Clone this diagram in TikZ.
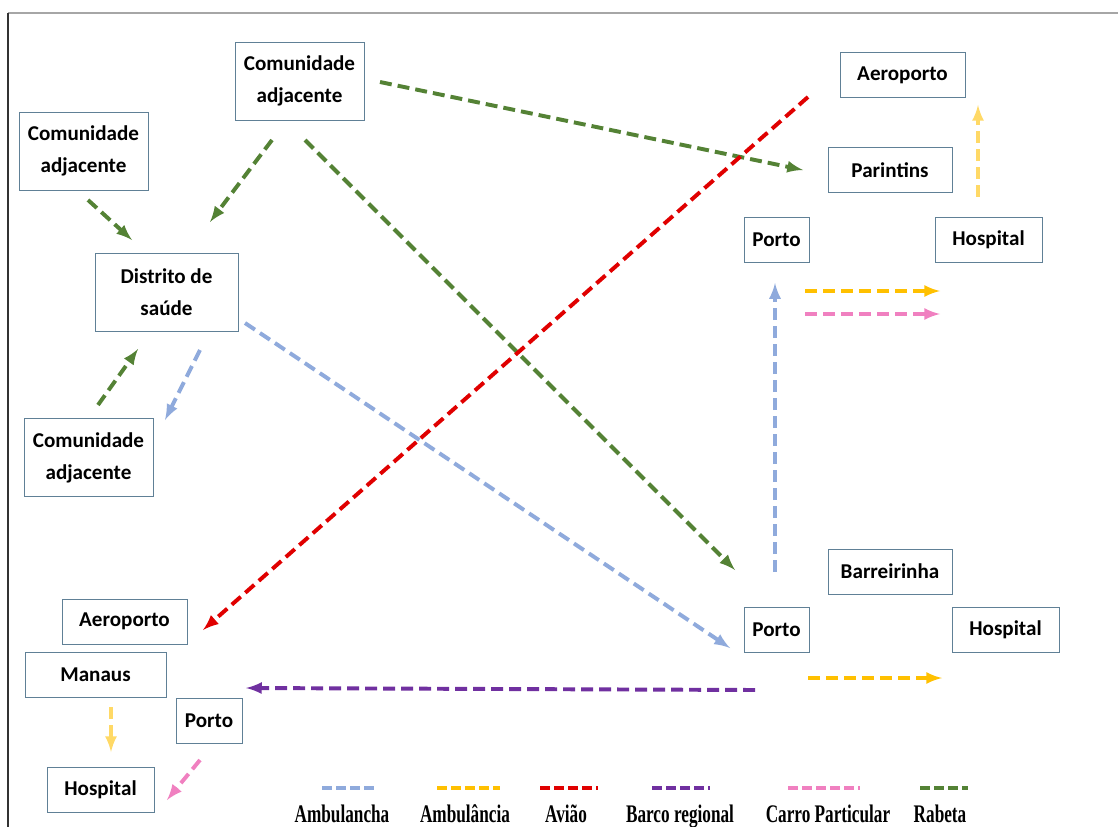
\documentclass[tikz,border=0pt]{standalone}
\usepackage{fontspec}
\setmainfont{Carlito}
\newfontfamily\legendfont[FakeStretch=0.68]{Liberation Serif}
\usepackage{tikz}
\usetikzlibrary{arrows,positioning}

\definecolor{boxline}{RGB}{96,128,150}
\definecolor{rabeta}{RGB}{84,130,53}
\definecolor{lancha}{RGB}{143,170,220}
\definecolor{ambu}{RGB}{255,192,0}
\definecolor{ambulight}{RGB}{255,217,102}
\definecolor{aviao}{RGB}{224,0,0}
\definecolor{barco}{RGB}{112,48,160}
\definecolor{carro}{RGB}{240,128,192}

\begin{document}
\begin{tikzpicture}[x=0.025cm, y=-0.025cm,
  box/.style={draw=boxline, line width=0.6pt, rectangle, minimum height=1.125cm, font=\fontsize{15}{22.7}\selectfont\bfseries, align=center, inner sep=2pt},
  tall/.style={minimum height=1.95cm},
  route/.style={line width=2.8pt, dash pattern=on 8.5pt off 4.3pt, >=latex},
  key/.style={line width=2.8pt, dash pattern=on 7pt off 3pt},
  lbl/.style={font=\fontsize{18}{20}\selectfont\legendfont\bfseries, anchor=base, inner sep=0pt}
]
\useasboundingbox (0,0) rectangle (1118,827);
% frame
\draw[gray!70, line width=1.4pt] (8,13) -- (1118,13);
\draw[black!80, line width=1.4pt] (8,13) -- (8,827);

% communities and district
\node[box, tall, minimum width=3.225cm] (comTop) at (299.5,81) {Comunidade\\adjacente};
\node[box, tall, minimum width=3.225cm] (comLeft) at (83.5,151) {Comunidade\\adjacente};
\node[box, tall, minimum width=3.575cm] (distrito) at (166.5,292.5) {Distrito de\\saúde};
\node[box, tall, minimum width=3.225cm] (comLow) at (88.5,457.5) {Comunidade\\adjacente};

% Parintins side
\node[box, minimum width=3.125cm] (aeroPar) at (902.5,75) {Aeroporto};
\node[box, minimum width=3.1cm] (parintins) at (890,170) {Parintins};
\node[box, minimum width=1.625cm] (portoPar) at (776.5,239.5) {Porto};
\node[box, minimum width=2.675cm] (hospPar) at (988.5,239.5) {Hospital};

% Barreirinha side
\node[box, minimum width=3.1cm] (barreirinha) at (890,571.5) {Barreirinha};
\node[box, minimum width=1.625cm] (portoBar) at (776.5,630) {Porto};
\node[box, minimum width=2.675cm] (hospBar) at (1005.5,630) {Hospital};

% Manaus side
\node[box, minimum width=3.125cm] (aeroMan) at (124.5,621.5) {Aeroporto};
\node[box, minimum width=3.525cm] (manaus) at (95.5,674.5) {Manaus};
\node[box, minimum width=1.65cm] (portoMan) at (209,720.5) {Porto};
\node[box, minimum width=2.675cm] (hospMan) at (100.5,789.5) {Hospital};

% arrow ends
\coordinate (gA1) at (380,82);   \coordinate (gA2) at (803,170);
\coordinate (gB1) at (272,140);  \coordinate (gB2) at (210,222);
\coordinate (gC1) at (305,140);  \coordinate (gC2) at (735,570);
\coordinate (gD1) at (88,200);   \coordinate (gD2) at (132,240);
\coordinate (gE1) at (98,405);   \coordinate (gE2) at (138,349);
\coordinate (bA1) at (200,350);  \coordinate (bA2) at (165,420);
\coordinate (bB1) at (245,323);  \coordinate (bB2) at (730,648);
\coordinate (bC1) at (775,572);  \coordinate (bC2) at (775,283);
\coordinate (rA1) at (808,97);   \coordinate (rA2) at (203,630);
\coordinate (yA1) at (805,291);  \coordinate (yA2) at (940,291);
\coordinate (pA1) at (805,314);  \coordinate (pA2) at (940,314);
\coordinate (yB1) at (978,197);  \coordinate (yB2) at (978,105);
\coordinate (yC1) at (808,678);  \coordinate (yC2) at (942,678);
\coordinate (vA1) at (755,690);  \coordinate (vA2) at (246,688);
\coordinate (yD1) at (111,707);  \coordinate (yD2) at (111,752);
\coordinate (pB1) at (200,760);  \coordinate (pB2) at (167,800);

% Rabeta
\draw[route, rabeta, ->] (gA1) -- (gA2);
\draw[route, rabeta, ->] (gB1) -- (gB2);
\draw[route, rabeta, ->] (gC1) -- (gC2);
\draw[route, rabeta, ->] (gD1) -- (gD2);
\draw[route, rabeta, ->] (gE1) -- (gE2);
% Ambulancha
\draw[route, lancha, ->] (bA1) -- (bA2);
\draw[route, lancha, ->] (bB1) -- (bB2);
\draw[route, lancha, ->] (bC1) -- (bC2);
% Aviao
\draw[route, aviao, ->] (rA1) -- (rA2);
% Ambulancia and carro
\draw[route, ambu, ->] (yA1) -- (yA2);
\draw[route, carro, ->] (pA1) -- (pA2);
\draw[route, ambulight, ->] (yB1) -- (yB2);
\draw[route, ambu, ->] (yC1) -- (yC2);
\draw[route, ambulight, ->] (yD1) -- (yD2);
\draw[route, carro, ->] (pB1) -- (pB2);
% Barco regional
\draw[route, barco, ->] (vA1) -- (vA2);

% legend
\coordinate (k1a) at (322,788); \coordinate (k1b) at (378,788);
\coordinate (k2a) at (437,788); \coordinate (k2b) at (500,788);
\coordinate (k3a) at (540,788); \coordinate (k3b) at (598,788);
\coordinate (k4a) at (652,788); \coordinate (k4b) at (710,788);
\coordinate (k5a) at (788,788); \coordinate (k5b) at (860,788);
\coordinate (k6a) at (920,788); \coordinate (k6b) at (968,788);
\draw[key, lancha] (k1a) -- (k1b);
\draw[key, ambu] (k2a) -- (k2b);
\draw[key, aviao] (k3a) -- (k3b);
\draw[key, barco] (k4a) -- (k4b);
\draw[key, carro] (k5a) -- (k5b);
\draw[key, rabeta] (k6a) -- (k6b);
\node[lbl] (l1) at (342,822) {Ambulancha};
\node[lbl] (l2) at (465,822) {Ambulância};
\node[lbl] (l3) at (566,822) {Avião};
\node[lbl] (l4) at (680,822) {Barco regional};
\node[lbl] (l5) at (828,822) {Carro Particular};
\node[lbl] (l6) at (940,822) {Rabeta};
\end{tikzpicture}
\end{document}
